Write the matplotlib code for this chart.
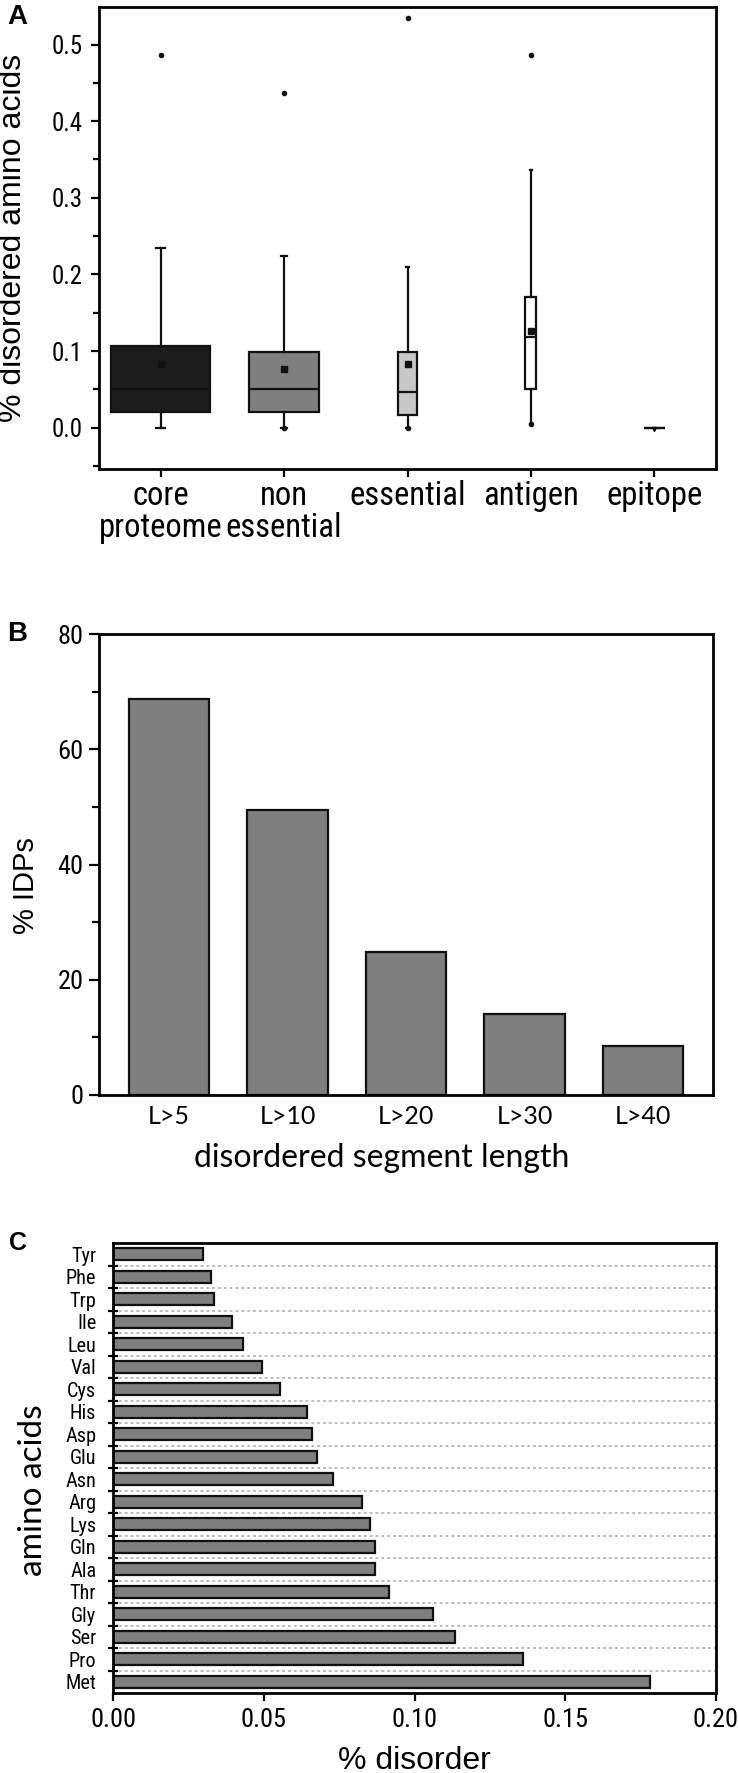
import matplotlib
matplotlib.use("Agg")
import matplotlib.pyplot as plt
from matplotlib.ticker import MultipleLocator, FixedLocator, NullFormatter, FormatStrFormatter
from matplotlib import font_manager as fm

# ---------------- data ----------------
# Panel A: box statistics (fraction of disordered amino acids)
groups = ["core\nproteome", "non\nessential", "essential", "antigen", "epitope"]
q1_vals = [0.021, 0.021, 0.017, 0.050, 0.0]
med_vals = [0.050, 0.050, 0.046, 0.118, 0.0]
q3_vals = [0.107, 0.099, 0.099, 0.171, 0.0]
whislo_vals = [0.0, 0.0, 0.0, 0.005, 0.0]
whishi_vals = [0.235, 0.224, 0.210, 0.336, 0.0]
mean_vals = [0.083, 0.076, 0.083, 0.126, -0.002]
flier_vals = [[0.487], [0.0, 0.437], [0.0, 0.534], [0.005, 0.487], []]
box_colors = ["#1c1c1c", "#7f7f7f", "#c8c8c8", "#ffffff", "#ffffff"]
box_widths = [0.80, 0.57, 0.16, 0.09, 0.175]
cap_widths = [0.075, 0.05, 0.02, 0.02, 0.0]

# Panel B: % IDPs by disordered segment length
seg_labels = ["L>5", "L>10", "L>20", "L>30", "L>40"]
idp_pct = [68.7, 49.4, 24.9, 14.1, 8.5]

# Panel C: % disorder per amino acid (top to bottom)
amino = ["Tyr", "Phe", "Trp", "Ile", "Leu", "Val", "Cys", "His", "Asp", "Glu",
         "Asn", "Arg", "Lys", "Gln", "Ala", "Thr", "Gly", "Ser", "Pro", "Met"]
disorder = [0.0297, 0.0326, 0.0335, 0.0396, 0.0430, 0.0493, 0.0554, 0.0642, 0.0659, 0.0678,
            0.0731, 0.0826, 0.0853, 0.0870, 0.0870, 0.0914, 0.1063, 0.1133, 0.1360, 0.1782]

# ---------------- fonts ----------------
names = {f.name for f in fm.fontManager.ttflist}
ARIAL = "Liberation Sans" if "Liberation Sans" in names else "DejaVu Sans"
CALIBRI = "Lato" if "Lato" in names else ARIAL
NARROW = ARIAL
for cand in ["Liberation Sans Narrow", "Arial Narrow", "Roboto Condensed", "Open Sans Condensed"]:
    if cand in names:
        NARROW = cand
        break
NS = 1.12 if NARROW != ARIAL else 1.0   # size boost for condensed face
plt.rcParams["font.family"] = [ARIAL, "DejaVu Sans"]
NF = [NARROW, "DejaVu Sans"]
CF = [CALIBRI, "DejaVu Sans"]

W, H = 738, 1773
fig = plt.figure(figsize=(W / 100, H / 100), dpi=100)


def axes_px(left, top, right, bottom):
    return fig.add_axes([left / W, 1 - bottom / H, (right - left) / W, (bottom - top) / H])


def style_ticklabels(ax, axis, family, size):
    labels = ax.get_xticklabels() if axis == "x" else ax.get_yticklabels()
    for t in labels:
        t.set_family(family)
        t.set_fontsize(size)


LW = 1.6

# ---------------- Panel A ----------------
axA = axes_px(99, 7, 716, 469)
stats = []
for i in range(len(groups)):
    stats.append(dict(med=med_vals[i], q1=q1_vals[i], q3=q3_vals[i],
                      whislo=whislo_vals[i], whishi=whishi_vals[i],
                      mean=mean_vals[i], fliers=flier_vals[i], label=groups[i]))
pos = list(range(1, len(groups) + 1))
bp = axA.bxp(stats, positions=pos, widths=box_widths, capwidths=cap_widths,
             patch_artist=True, showmeans=True, showfliers=True,
             boxprops=dict(linewidth=LW, edgecolor="#111111"),
             medianprops=dict(color="#111111", linewidth=LW),
             whiskerprops=dict(color="#111111", linewidth=LW),
             capprops=dict(color="#111111", linewidth=LW),
             meanprops=dict(marker="s", markerfacecolor="#111111", markeredgecolor="#111111",
                            markersize=4),
             flierprops=dict(marker="o", markerfacecolor="#111111", markeredgecolor="#111111",
                             markersize=3))
for patch, c in zip(bp["boxes"], box_colors):
    patch.set_facecolor(c)
bp["means"][-1].set_marker("v")
bp["means"][-1].set_markersize(3)
axA.set_xlim(0.5, 5.5)
axA.set_ylim(-0.054, 0.549)
axA.yaxis.set_major_locator(MultipleLocator(0.1))
axA.yaxis.set_minor_locator(MultipleLocator(0.05))
axA.yaxis.set_major_formatter(FormatStrFormatter("%.1f"))
axA.set_xticks(pos)
axA.set_xticklabels(groups, linespacing=1.0)
style_ticklabels(axA, "x", NF, 21 * NS)
style_ticklabels(axA, "y", NF, 16 * NS)
axA.tick_params(axis="y", which="major", direction="out", length=6, width=LW, pad=6)
axA.tick_params(axis="y", which="minor", direction="out", length=4, width=LW)
axA.tick_params(axis="x", which="major", direction="out", length=6, width=LW, pad=2)
for s in axA.spines.values():
    s.set_linewidth(LW + 0.4)
axA.set_ylabel("% disordered amino acids", fontsize=23, va="center")
axA.yaxis.set_label_coords(-0.139, 0.5)
fig.text(7 / W, 1 - 4 / H, "A", fontsize=20, fontweight="bold", ha="left", va="top")

# ---------------- Panel B ----------------
axB = axes_px(99, 634, 713, 1095)
xb = list(range(1, len(seg_labels) + 1))
axB.bar(xb, idp_pct, width=0.68, color="#7f7f7f", edgecolor="#111111", linewidth=LW)
axB.set_xlim(0.41, 5.59)
axB.set_ylim(0, 80)
axB.yaxis.set_major_locator(MultipleLocator(20))
axB.yaxis.set_minor_locator(MultipleLocator(10))
axB.set_xticks(xb)
axB.set_xticklabels(seg_labels)
style_ticklabels(axB, "x", CF, 18)
style_ticklabels(axB, "y", NF, 17 * NS)
axB.tick_params(axis="x", which="major", length=0, pad=7)
axB.tick_params(axis="y", which="major", direction="out", length=7, width=LW, pad=4)
axB.tick_params(axis="y", which="minor", direction="out", length=5, width=LW)
for s in axB.spines.values():
    s.set_linewidth(LW + 0.4)
axB.set_ylabel("% IDPs", fontsize=21, va="center")
axB.yaxis.set_label_coords(-0.119, 0.455)
axB.set_xlabel("disordered segment length", fontsize=23, family=CF, va="center")
axB.xaxis.set_label_coords(0.461, -0.137)
fig.text(7 / W, 1 - 621 / H, "B", fontsize=20, fontweight="bold", ha="left", va="top")

# ---------------- Panel C ----------------
axC = axes_px(113, 1243, 716, 1693)
yc = list(range(len(amino)))
axC.barh(yc, disorder, height=0.55, color="#7f7f7f", edgecolor="#111111",
         linewidth=LW, zorder=3)
axC.set_ylim(len(amino) - 0.5, -0.5)
axC.set_xlim(0, 0.2)
axC.xaxis.set_major_locator(MultipleLocator(0.05))
axC.xaxis.set_major_formatter(FormatStrFormatter("%.2f"))
axC.set_yticks(yc)
axC.set_yticklabels(amino)
style_ticklabels(axC, "y", NF, 13 * NS)
style_ticklabels(axC, "x", NF, 17 * NS)
bounds = [i + 0.5 for i in range(len(amino) - 1)]
axC.yaxis.set_minor_locator(FixedLocator(bounds))
axC.yaxis.set_minor_formatter(NullFormatter())
for b in bounds:
    axC.axhline(b, color="#bcbcbc", linestyle=(0, (1.5, 1.5)), linewidth=1.4, zorder=1)
axC.tick_params(axis="y", which="major", length=0, pad=12)
axC.tick_params(axis="y", which="minor", direction="inout", length=7, width=LW)
axC.tick_params(axis="x", which="major", direction="out", length=6, width=LW, pad=5)
for s in axC.spines.values():
    s.set_linewidth(LW + 0.4)
    s.set_zorder(4)
axC.set_xlabel("% disorder", fontsize=23, va="center")
axC.xaxis.set_label_coords(0.5, -0.151)
axC.set_ylabel("amino acids", fontsize=24, family=CF, va="center")
axC.yaxis.set_label_coords(-0.133, 0.451)
fig.text(9 / W, 1 - 1231 / H, "C", fontsize=18, fontweight="bold", ha="left", va="top")

fig.savefig("out.png", dpi=100)
